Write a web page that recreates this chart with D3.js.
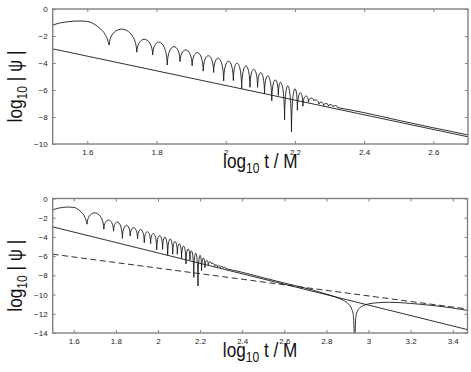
<!DOCTYPE html>
<html><head><meta charset="utf-8">
<script src="https://cdn.jsdelivr.net/npm/d3@7"></script>
<style>
html,body{margin:0;padding:0;background:#fff;}
svg{display:block;}
text{font-family:"Liberation Sans",Arial,Helvetica,sans-serif;}
</style></head>
<body>
<svg id="chart" width="471" height="372"></svg>
<script>
// ---- data ----
// initial hump (left edge to first zero)
const humpX = [1.5, 1.52, 1.545, 1.575, 1.6, 1.615, 1.63, 1.643, 1.653, 1.659, 1.663];
const humpY = [-1.19, -1.04, -0.94, -0.89, -0.92, -1.05, -1.3, -1.6, -1.95, -2.3, -2.67];
// zeros (cusps) of the ringing and the depth drawn at each cusp
const zeroX = [1.663, 1.743, 1.789, 1.831, 1.868, 1.903, 1.935, 1.965, 1.994, 2.022, 2.046, 2.070, 2.092, 2.112, 2.133, 2.152, 2.170, 2.190, 2.207, 2.223, 2.239, 2.254, 2.269, 2.283, 2.297, 2.310, 2.323];
const zeroY = [-2.67, -3.2, -3.4, -4.15, -3.9, -4.2, -4.6, -4.7, -5.33, -5.3, -5.9, -5.8, -5.8, -6.25, -6.8, -6.4, -8.2, -9.1, -7.5, -7.2, -6.9, -6.8, -7.05, -7.15, -7.2, -7.25, -7.3];
// peak of each lobe between consecutive zeros
const lobePeak = [-1.5, -2.25, -2.47, -2.79, -3.04, -3.23, -3.46, -3.65, -3.87, -4.02, -4.22, -4.47, -4.72, -4.96, -5.26, -5.5, -5.7, -5.95, -6.2, -6.45, -6.6, -6.75, -6.9, -7.0, -7.08, -7.15];
// late-time tail of the full signal
const tailX = [2.323, 2.36, 2.4, 2.5, 2.6, 2.7, 2.8, 2.85, 2.88, 2.905, 2.92, 2.928, 2.934, 2.94, 2.948, 2.96, 2.975, 3.0, 3.05, 3.1, 3.2, 3.3, 3.4, 3.47];
const tailY = [-7.3, -7.48, -7.68, -8.25, -8.8, -9.33, -9.95, -10.3, -10.6, -11.0, -11.5, -12.2, -14.5, -12.3, -11.7, -11.35, -11.15, -10.97, -10.84, -10.8, -10.92, -11.13, -11.4, -11.65];
// straight power-law lines
const solidLineX = [1.5, 3.47];
const solidLineY = [-2.95, -13.65];
const dashLineX = [1.5, 3.47];
const dashLineY = [-5.8, -11.5];
// ticks
const topXTicks = [1.6, 1.8, 2, 2.2, 2.4, 2.6];
const topYTicks = [0, -2, -4, -6, -8, -10];
const botXTicks = [1.6, 1.8, 2, 2.2, 2.4, 2.6, 2.8, 3, 3.2, 3.4];
const botYTicks = [0, -2, -4, -6, -8, -10, -12, -14];

const panels = [
  {xd:[1.5,2.7], yd:[-10,0], x0:52.7, x1:468, y0:9, y1:144, xt:topXTicks, yt:topYTicks, dashed:false},
  {xd:[1.5,3.47], yd:[-14,0], x0:52.7, x1:467.5, y0:198.5, y1:333, xt:botXTicks, yt:botYTicks, dashed:true}
];

const svg = d3.select("#chart");
const fmt = d => (d < 0 ? "\u2212" : "") + String(Math.abs(+d.toFixed(1)));

panels.forEach((p, i) => {
  const x = d3.scaleLinear().domain(p.xd).range([p.x0, p.x1]);
  const y = d3.scaleLinear().domain(p.yd).range([p.y1, p.y0]);
  const g = svg.append("g");
  const cid = "clip" + i;
  svg.append("clipPath").attr("id", cid).append("rect")
    .attr("x", p.x0).attr("y", p.y0).attr("width", p.x1 - p.x0).attr("height", p.y1 - p.y0);
  const plot = g.append("g").attr("clip-path", `url(#${cid})`)
    .attr("fill", "none").attr("stroke", "#1a1a1a").attr("stroke-width", 0.9);

  const line = d3.line().x(d => x(d[0])).y(d => y(d[1]));
  // straight solid line
  plot.append("path").attr("d", line(solidLineX.map((v, k) => [v, solidLineY[k]])));
  if (p.dashed) {
    plot.append("path").attr("stroke-dasharray", "6,3.5")
      .attr("d", line(dashLineX.map((v, k) => [v, dashLineY[k]])));
  }
  // hump
  const mline = d3.line().x(d => x(d[0])).y(d => y(d[1])).curve(d3.curveMonotoneX);
  plot.append("path").attr("d", mline(humpX.map((v, k) => [v, humpY[k]])));
  // ringing lobes
  let dstr = "";
  lobePeak.forEach((pk, k) => {
    const X0 = x(zeroX[k]), Y0 = y(zeroY[k]);
    const X3 = x(zeroX[k + 1]), Y3 = y(zeroY[k + 1]);
    const Yp = y(pk);
    const c = (Yp - (Y0 + Y3) / 8) / 0.75;
    const w = X3 - X0;
    dstr += `M${X0},${Y0}C${X0 + 0.04 * w},${c} ${X3 - 0.04 * w},${c} ${X3},${Y3}`;
  });
  plot.append("path").attr("d", dstr);
  // tail
  plot.append("path").attr("d", mline(tailX.map((v, k) => [v, tailY[k]])));

  // frame
  g.append("rect").attr("x", p.x0).attr("y", p.y0).attr("width", p.x1 - p.x0).attr("height", p.y1 - p.y0)
    .attr("fill", "none").attr("stroke", "#808080").attr("stroke-width", 1.4);

  const styleAxis = (sel) => {
    sel.select(".domain").remove();
    sel.selectAll(".tick line").attr("stroke", "#808080").attr("stroke-width", 1);
    sel.selectAll(".tick text").attr("fill", "#222").attr("font-size", 8)
      .attr("font-family", '"Liberation Sans",Arial,sans-serif');
  };
  g.append("g").attr("transform", `translate(0,${p.y1})`)
    .call(d3.axisBottom(x).tickValues(p.xt).tickFormat(fmt).tickSize(-3).tickPadding(5.5)).call(styleAxis);
  g.append("g").attr("transform", `translate(0,${p.y0})`)
    .call(d3.axisTop(x).tickValues(p.xt).tickFormat("").tickSize(-3)).call(styleAxis);
  g.append("g").attr("transform", `translate(${p.x0},0)`)
    .call(d3.axisLeft(y).tickValues(p.yt).tickFormat(fmt).tickSize(-3).tickPadding(5)).call(styleAxis);
  g.append("g").attr("transform", `translate(${p.x1},0)`)
    .call(d3.axisRight(y).tickValues(p.yt).tickFormat("").tickSize(-3)).call(styleAxis);

  // x label
  const xl = g.append("g").attr("transform", `translate(${(p.x0 + p.x1) / 2},${p.y1 + 24}) scale(0.86,1)`)
    .append("text").attr("text-anchor", "middle").attr("font-size", 20).attr("fill", "#111");
  xl.append("tspan").text("log");
  xl.append("tspan").attr("font-size", 14).attr("dy", 5).text("10");
  xl.append("tspan").attr("dy", -5).text(" t / M");
  // y label
  const yl = g.append("g").attr("transform", `translate(22,${(p.y0 + p.y1) / 2 + 10}) rotate(-90) scale(0.86,1)`)
    .append("text").attr("text-anchor", "middle").attr("font-size", 20).attr("fill", "#111");
  yl.append("tspan").text("log");
  yl.append("tspan").attr("font-size", 14).attr("dy", 5).text("10");
  yl.append("tspan").attr("dy", -5).text(" | \u03C8  |");
});
</script>
</body></html>
